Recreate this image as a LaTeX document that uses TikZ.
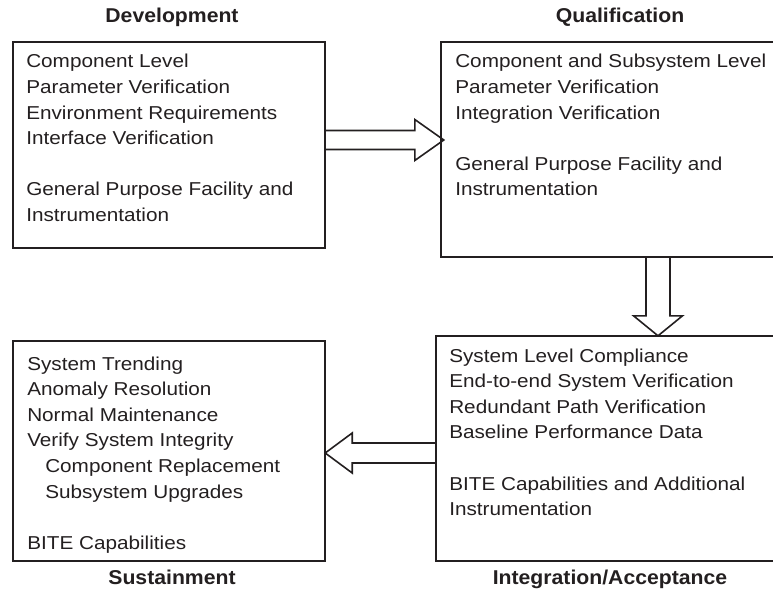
\documentclass[tikz,border=0pt]{standalone}
\usepackage{fontspec}
\setmainfont{Liberation Sans}[FakeStretch=1.11]
\newfontfamily\titlefont{Liberation Sans}[FakeStretch=1.06]
\usetikzlibrary{fit}
\definecolor{ink}{HTML}{231F20}
\newcommand\linestack[1]{\vtop{\baselineskip=19.2pt\lineskiplimit=-100pt\lineskip=0pt\relax #1}}
\newcommand\ind{\hskip 13.5pt}
\begin{document}
\begin{tikzpicture}[x=0.75pt,y=-0.75pt,
  box/.style={draw=ink, line width=1.2pt, inner sep=0pt},
  blockarrow/.style={draw=ink, line width=1.2pt, line join=miter},
  body/.style={anchor=base west, inner sep=0pt, text=ink, font=\fontsize{14}{19.2}\selectfont},
  heading/.style={anchor=base, inner sep=0pt, text=ink, font=\titlefont\bfseries\fontsize{15}{18}\selectfont}]
\useasboundingbox (0,0) rectangle (773,598);
\clip (0,0) rectangle (773,598);
% box corners
\coordinate (d1) at (13,42);   \coordinate (d2) at (325,248);
\coordinate (q1) at (441,42);  \coordinate (q2) at (800,257);
\coordinate (i1) at (436,336); \coordinate (i2) at (830,561);
\coordinate (s1) at (13,341);  \coordinate (s2) at (325,561);
\node[box, fit=(d1)(d2)] (dev) {};
\node[box, fit=(q1)(q2)] (qual) {};
\node[box, fit=(i1)(i2)] (integ) {};
\node[box, fit=(s1)(s2)] (sust) {};
% arrow axes
\coordinate (a1) at (0,140);
\coordinate (a2) at (658,0);
\coordinate (a3) at (0,453);
% block arrows
\draw[blockarrow] (dev.east |- a1) ++(0,-9.5) -- ++(89,0) -- ++(0,-11) -- ++(29,20.5) -- ++(-29,20.5) -- ++(0,-11) -- ++(-89,0);
\draw[blockarrow] (qual.south -| a2) ++(-12,0) -- ++(0,58) -- ++(-12.5,0) -- ++(24.5,20) -- ++(24.5,-20) -- ++(-12.5,0) -- ++(0,-58);
\draw[blockarrow] (integ.west |- a3) ++(0,-10) -- ++(-83,0) -- ++(0,-10) -- ++(-27,20) -- ++(27,20) -- ++(0,-10) -- ++(83,0);
% headings
\node[heading] (devtitle) at (172,23) {Development};
\node[heading] (qualtitle) at (620,23) {Qualification};
\node[heading] (susttitle) at (172,584) {Sustainment};
\node[heading] (integtitle) at (610,584) {Integration/Acceptance};
% texts
\node[body] (devtext) at (26,68) {\linestack{%
  \hbox{Component Level}\hbox{Parameter Verification}\hbox{Environment Requirements}\hbox{Interface Verification}\hbox{}%
  \hbox{General Purpose Facility and}\hbox{Instrumentation}}};
\node[body] (qualtext) at (455,68) {\linestack{%
  \hbox{Component and Subsystem Level}\hbox{Parameter Verification}\hbox{Integration Verification}\hbox{}%
  \hbox{General Purpose Facility and}\hbox{Instrumentation}}};
\node[body] (integtext) at (449,362) {\linestack{%
  \hbox{System Level Compliance}\hbox{End-to-end System Verification}\hbox{Redundant Path Verification}\hbox{Baseline Performance Data}\hbox{}%
  \hbox{BITE Capabilities and Additional}\hbox{Instrumentation}}};
\node[body] (susttext) at (27,370) {\linestack{%
  \hbox{System Trending}\hbox{Anomaly Resolution}\hbox{Normal Maintenance}\hbox{Verify System Integrity}%
  \hbox{\ind Component Replacement}\hbox{\ind Subsystem Upgrades}\hbox{}%
  \hbox{BITE Capabilities}}};
\end{tikzpicture}
\end{document}
